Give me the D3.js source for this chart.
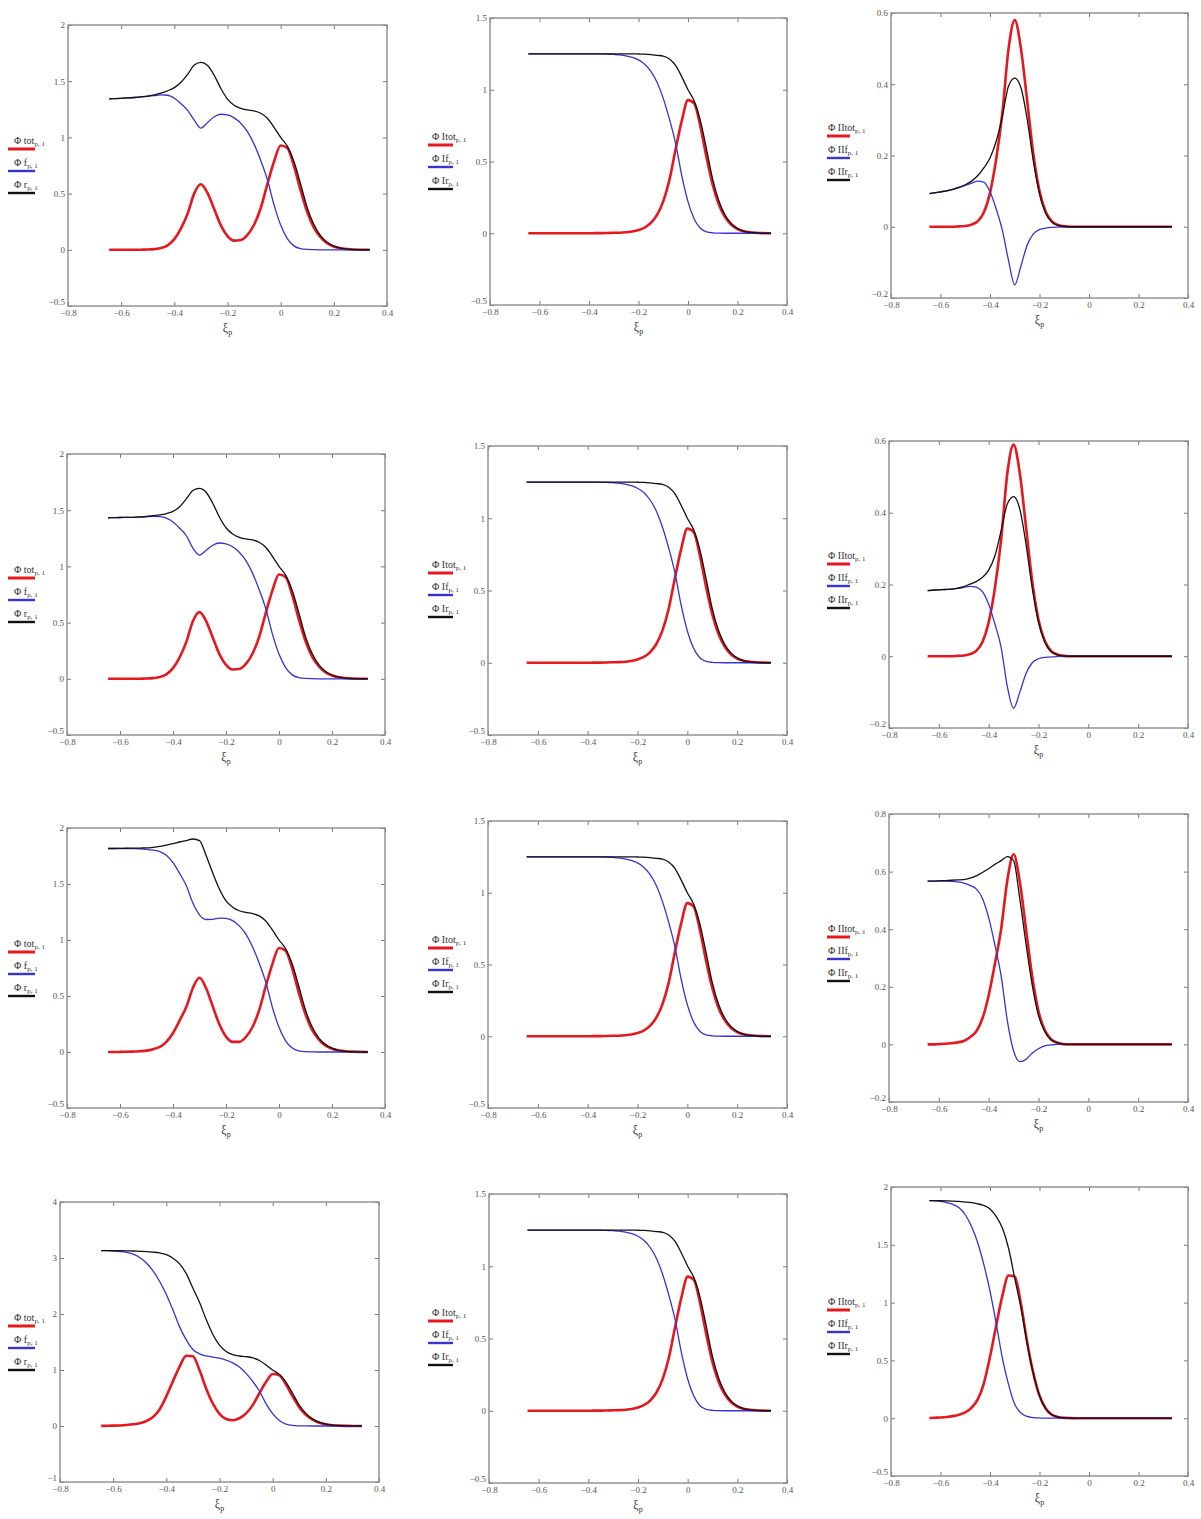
<!DOCTYPE html>
<html>
<head>
<meta charset="utf-8">
<script src="https://cdn.jsdelivr.net/npm/d3@7"></script>
<style>
  body { margin: 0; background: #fff; }
  svg { display: block; }
  text { font-family: "Liberation Serif", "DejaVu Serif", serif; }
</style>
</head>
<body>
<svg id="graph" width="1201" height="1519"></svg>
<script>

// Grille commune en ξp (abscisse de toutes les courbes)
const xi = [-0.645, -0.625, -0.6, -0.575, -0.55, -0.525, -0.5, -0.475, -0.45, -0.425,
  -0.4, -0.375, -0.35, -0.325, -0.3, -0.275, -0.25, -0.225, -0.2, -0.175,
  -0.15, -0.125, -0.1, -0.075, -0.05, -0.025, 0, 0.025, 0.05, 0.075,
  0.1, 0.125, 0.15, 0.175, 0.2, 0.225, 0.25, 0.275, 0.3, 0.325, 0.335];

// Colonne 2 (identique sur les 4 lignes)
const c2Rouge = [0,0,0,0,0,0,0,0,0,0,0,0.001,0.001,0.002,0.003,0.004,0.007,0.012,0.022,0.040,0.072,0.128,0.222,0.372,0.585,0.785,0.928,0.905,0.745,0.528,0.336,0.198,0.112,0.058,0.029,0.014,0.007,0.003,0.001,0,0];
const c2Bleu = [1.25,1.25,1.25,1.25,1.25,1.25,1.25,1.25,1.25,1.25,1.25,1.25,1.25,1.248,1.246,1.243,1.236,1.226,1.208,1.178,1.128,1.052,0.94,0.795,0.625,0.40,0.22,0.10,0.035,0.01,0.003,0.001,0,0,0,0,0,0,0,0,0];
const c2Noir = [1.25,1.25,1.25,1.25,1.25,1.25,1.25,1.25,1.25,1.25,1.25,1.25,1.25,1.25,1.25,1.25,1.25,1.25,1.249,1.248,1.245,1.24,1.235,1.215,1.17,1.09,1.0,0.922,0.785,0.585,0.375,0.225,0.127,0.068,0.034,0.015,0.006,0.002,0.001,0,0];

// Colonne 3, lignes 1 à 4
const c3Rouge1 = [0,0,0,0,0,0.001,0.002,0.006,0.015,0.04,0.095,0.19,0.32,0.5,0.58,0.5,0.355,0.205,0.1,0.042,0.015,0.005,0.001,0,0,0,0,0,0,0,0,0,0,0,0,0,0,0,0,0,0];
const c3Bleu1 = [0.093,0.095,0.098,0.101,0.105,0.110,0.116,0.122,0.128,0.125,0.098,0.05,-0.01,-0.095,-0.163,-0.11,-0.052,-0.02,-0.008,-0.004,-0.002,-0.001,0,0,0,0,0,0,0,0,0,0,0,0,0,0,0,0,0,0,0];
const c3Noir1 = [0.093,0.095,0.098,0.101,0.105,0.111,0.118,0.128,0.143,0.165,0.193,0.24,0.31,0.395,0.417,0.39,0.303,0.185,0.092,0.038,0.013,0.004,0.001,0,0,0,0,0,0,0,0,0,0,0,0,0,0,0,0,0,0];

const c3Rouge2 = [0,0,0,0,0,0.001,0.002,0.006,0.015,0.04,0.095,0.19,0.325,0.51,0.59,0.51,0.36,0.208,0.102,0.043,0.015,0.005,0.001,0,0,0,0,0,0,0,0,0,0,0,0,0,0,0,0,0,0];
const c3Bleu2 = [0.183,0.184,0.185,0.186,0.187,0.189,0.192,0.195,0.193,0.18,0.145,0.09,0.025,-0.085,-0.145,-0.1,-0.048,-0.018,-0.007,-0.003,-0.002,-0.001,0,0,0,0,0,0,0,0,0,0,0,0,0,0,0,0,0,0,0];
const c3Noir2 = [0.183,0.184,0.185,0.186,0.187,0.190,0.194,0.201,0.208,0.22,0.24,0.28,0.35,0.425,0.445,0.41,0.312,0.19,0.095,0.04,0.013,0.004,0.001,0,0,0,0,0,0,0,0,0,0,0,0,0,0,0,0,0,0];

const c3Rouge3 = [0,0,0.001,0.002,0.004,0.007,0.012,0.025,0.045,0.09,0.17,0.28,0.40,0.57,0.66,0.565,0.40,0.235,0.115,0.05,0.018,0.006,0.001,0,0,0,0,0,0,0,0,0,0,0,0,0,0,0,0,0,0];
const c3Bleu3 = [0.567,0.567,0.567,0.567,0.566,0.564,0.560,0.552,0.54,0.507,0.44,0.345,0.238,0.082,-0.022,-0.06,-0.052,-0.03,-0.015,-0.005,-0.002,0,0,0,0,0,0,0,0,0,0,0,0,0,0,0,0,0,0,0,0];
const c3Noir3 = [0.567,0.567,0.568,0.569,0.570,0.571,0.572,0.577,0.585,0.597,0.61,0.625,0.638,0.652,0.638,0.505,0.348,0.205,0.10,0.045,0.016,0.006,0.001,0,0,0,0,0,0,0,0,0,0,0,0,0,0,0,0,0,0];

const c3Rouge4 = [0.002,0.004,0.006,0.01,0.018,0.03,0.05,0.09,0.16,0.30,0.53,0.80,1.06,1.235,1.225,0.99,0.66,0.39,0.195,0.084,0.03,0.01,0.003,0.001,0,0,0,0,0,0,0,0,0,0,0,0,0,0,0,0,0];
const c3Bleu4 = [1.882,1.88,1.875,1.865,1.85,1.82,1.76,1.66,1.52,1.33,1.10,0.82,0.52,0.29,0.12,0.045,0.015,0.005,0.002,0,0,0,0,0,0,0,0,0,0,0,0,0,0,0,0,0,0,0,0,0,0];
const c3Noir4 = [1.882,1.882,1.881,1.88,1.878,1.875,1.87,1.865,1.855,1.84,1.81,1.745,1.645,1.47,1.21,0.955,0.65,0.385,0.195,0.083,0.03,0.01,0.003,0.001,0,0,0,0,0,0,0,0,0,0,0,0,0,0,0,0,0];

// Colonne 1, lignes 1 à 4
const c1Rouge1 = [0,0,0,0,0,0.001,0.002,0.006,0.015,0.04,0.095,0.191,0.321,0.502,0.583,0.504,0.362,0.217,0.122,0.082,0.087,0.133,0.223,0.372,0.585,0.785,0.928,0.905,0.745,0.528,0.336,0.198,0.112,0.058,0.029,0.014,0.007,0.003,0.001,0,0];
const c1Bleu1 = [1.343,1.345,1.348,1.351,1.355,1.36,1.366,1.372,1.378,1.375,1.348,1.30,1.24,1.153,1.083,1.133,1.184,1.206,1.2,1.174,1.126,1.051,0.94,0.795,0.625,0.40,0.22,0.10,0.035,0.01,0.003,0.001,0,0,0,0,0,0,0,0,0];
const c1Noir1 = [1.343,1.345,1.348,1.351,1.355,1.361,1.368,1.378,1.393,1.415,1.443,1.49,1.56,1.645,1.667,1.64,1.553,1.435,1.341,1.286,1.258,1.244,1.236,1.215,1.17,1.09,1.0,0.922,0.785,0.585,0.375,0.225,0.127,0.068,0.034,0.015,0.006,0.002,0.001,0,0];

const c1Rouge2 = [0,0,0,0,0,0.001,0.002,0.006,0.015,0.04,0.095,0.191,0.326,0.512,0.593,0.514,0.367,0.22,0.124,0.083,0.087,0.133,0.223,0.372,0.585,0.785,0.928,0.905,0.745,0.528,0.336,0.198,0.112,0.058,0.029,0.014,0.007,0.003,0.001,0,0];
const c1Bleu2 = [1.433,1.434,1.435,1.436,1.437,1.439,1.442,1.445,1.443,1.43,1.395,1.34,1.275,1.163,1.101,1.143,1.188,1.208,1.201,1.175,1.126,1.051,0.94,0.795,0.625,0.40,0.22,0.10,0.035,0.01,0.003,0.001,0,0,0,0,0,0,0,0,0];
const c1Noir2 = [1.433,1.434,1.435,1.436,1.437,1.44,1.444,1.451,1.458,1.47,1.49,1.53,1.60,1.675,1.695,1.66,1.562,1.44,1.344,1.288,1.258,1.244,1.236,1.215,1.17,1.09,1.0,0.922,0.785,0.585,0.375,0.225,0.127,0.068,0.034,0.015,0.006,0.002,0.001,0,0];

const c1Rouge3 = [0,0,0.001,0.002,0.004,0.007,0.012,0.025,0.045,0.09,0.17,0.281,0.401,0.572,0.663,0.569,0.407,0.247,0.137,0.09,0.09,0.134,0.223,0.372,0.585,0.785,0.928,0.905,0.745,0.528,0.336,0.198,0.112,0.058,0.029,0.014,0.007,0.003,0.001,0,0];
const c1Bleu3 = [1.817,1.817,1.817,1.817,1.816,1.814,1.81,1.802,1.79,1.757,1.69,1.595,1.486,1.33,1.224,1.183,1.184,1.196,1.193,1.173,1.126,1.052,0.94,0.795,0.625,0.40,0.22,0.10,0.035,0.01,0.003,0.001,0,0,0,0,0,0,0,0,0];
const c1Noir3 = [1.817,1.817,1.818,1.819,1.82,1.821,1.822,1.827,1.835,1.847,1.86,1.875,1.888,1.902,1.888,1.755,1.598,1.455,1.349,1.293,1.261,1.246,1.236,1.215,1.17,1.09,1.0,0.922,0.785,0.585,0.375,0.225,0.127,0.068,0.034,0.015,0.006,0.002,0.001,0,0];

const c1Rouge4 = [0.002,0.004,0.006,0.01,0.018,0.03,0.05,0.09,0.16,0.30,0.53,0.801,1.061,1.255,1.245,0.994,0.667,0.402,0.217,0.124,0.102,0.138,0.225,0.373,0.585,0.785,0.928,0.905,0.745,0.528,0.336,0.198,0.112,0.058,0.029,0.014,0.007,0.003,0.001,0,0];
const c1Bleu4 = [3.132,3.13,3.125,3.115,3.10,3.07,3.01,2.91,2.77,2.58,2.35,2.07,1.77,1.538,1.366,1.288,1.251,1.231,1.21,1.178,1.128,1.052,0.94,0.795,0.625,0.40,0.22,0.10,0.035,0.01,0.003,0.001,0,0,0,0,0,0,0,0,0];
const c1Noir4 = [3.132,3.132,3.131,3.13,3.128,3.125,3.12,3.115,3.105,3.09,3.06,2.995,2.895,2.72,2.46,2.205,1.9,1.635,1.444,1.331,1.275,1.25,1.238,1.216,1.17,1.09,1.0,0.922,0.785,0.585,0.375,0.225,0.127,0.068,0.034,0.015,0.006,0.002,0.001,0,0];

// Graduations
const ticksX = [-0.8, -0.6, -0.4, -0.2, 0, 0.2, 0.4];
const ticksA = [-0.5, 0, 0.5, 1, 1.5, 2];
const ticksB = [-0.5, 0, 0.5, 1, 1.5];
const ticksC = [-0.2, 0, 0.2, 0.4, 0.6];
const ticksD = [-0.2, 0, 0.2, 0.4, 0.6, 0.8];
const ticksE = [-1, 0, 1, 2, 3, 4];

// Noms de la légende
const legende1 = ["tot", "f", "r"];
const legende2 = ["Itot", "If", "Ir"];
const legende3 = ["IItot", "IIf", "IIr"];

// Cadres [gauche, droite, haut, bas] par ligne / colonne
const cadres = [
  [[68, 387, 25, 306], [490, 787, 18, 305], [891, 1188, 13, 298]],
  [[67, 385, 454, 735], [488, 787, 446, 735], [889, 1188, 441, 728]],
  [[67, 385, 828, 1108], [488, 787, 821, 1108], [889, 1188, 814, 1102]],
  [[60, 379, 1202, 1482], [489, 787, 1194, 1483], [891, 1188, 1187, 1476]]
];

// Position de la légende par colonne : trait x1, x2, texte x, décalage vertical
const posLegende = [[8, 35, 14, 124], [428, 453, 432, 127], [827, 850, 828, 123]];

const couleurs = ["#e4181e", "#3434d2", "#111111"];
const epaisseurs = [2.6, 1.3, 1.3];

// Table des panneaux
const panneaux = [
  { r: 0, c: 0, dom: [-0.5, 2], ticks: ticksA, series: [c1Rouge1, c1Bleu1, c1Noir1], noms: legende1 },
  { r: 0, c: 1, dom: [-0.5, 1.5], ticks: ticksB, series: [c2Rouge, c2Bleu, c2Noir], noms: legende2 },
  { r: 0, c: 2, dom: [-0.2, 0.6], ticks: ticksC, series: [c3Rouge1, c3Bleu1, c3Noir1], noms: legende3 },
  { r: 1, c: 0, dom: [-0.5, 2], ticks: ticksA, series: [c1Rouge2, c1Bleu2, c1Noir2], noms: legende1 },
  { r: 1, c: 1, dom: [-0.5, 1.5], ticks: ticksB, series: [c2Rouge, c2Bleu, c2Noir], noms: legende2 },
  { r: 1, c: 2, dom: [-0.2, 0.6], ticks: ticksC, series: [c3Rouge2, c3Bleu2, c3Noir2], noms: legende3 },
  { r: 2, c: 0, dom: [-0.5, 2], ticks: ticksA, series: [c1Rouge3, c1Bleu3, c1Noir3], noms: legende1 },
  { r: 2, c: 1, dom: [-0.5, 1.5], ticks: ticksB, series: [c2Rouge, c2Bleu, c2Noir], noms: legende2 },
  { r: 2, c: 2, dom: [-0.2, 0.8], ticks: ticksD, series: [c3Rouge3, c3Bleu3, c3Noir3], noms: legende3 },
  { r: 3, c: 0, dom: [-1, 4], ticks: ticksE, series: [c1Rouge4, c1Bleu4, c1Noir4], noms: legende1 },
  { r: 3, c: 1, dom: [-0.5, 1.5], ticks: ticksB, series: [c2Rouge, c2Bleu, c2Noir], noms: legende2 },
  { r: 3, c: 2, dom: [-0.5, 2], ticks: ticksA, series: [c3Rouge4, c3Bleu4, c3Noir4], noms: legende3 }
];

const svg = d3.select("#graph");

// Format façon Mathcad : signe moins typographique
const fmt = d => d < 0 ? "\u2212" + Math.abs(d) : String(d);

panneaux.forEach(p => {
  const [gauche, droite, haut, bas] = cadres[p.r][p.c];
  const g = svg.append("g");

  const x = d3.scaleLinear().domain([-0.8, 0.4]).range([gauche, droite]);
  const y = d3.scaleLinear().domain(p.dom).range([bas, haut]);

  // Axes (graduations vers l'intérieur sur les quatre côtés)
  const axes = [
    [d3.axisBottom(x).tickValues(ticksX).tickFormat(fmt).tickPadding(4), `translate(0,${bas})`],
    [d3.axisTop(x).tickValues(ticksX).tickFormat(""), `translate(0,${haut})`],
    [d3.axisLeft(y).tickValues(p.ticks).tickFormat(fmt).tickPadding(3), `translate(${gauche},0)`],
    [d3.axisRight(y).tickValues(p.ticks).tickFormat(""), `translate(${droite},0)`]
  ];
  axes.forEach(([axe, tr], n) => {
    const a = g.append("g").attr("transform", tr)
      .call(axe.tickSizeInner(-4).tickSizeOuter(0));
    a.select(".domain").remove();
    a.selectAll("line").attr("stroke", "#777").attr("stroke-width", 1);
    a.selectAll("text").attr("font-size", 9).attr("fill", "#555")
      .attr("font-family", "Liberation Serif, serif");
    // la plus basse graduation y remonte un peu pour ne pas chevaucher l'axe x
    if (n === 2) a.selectAll("text").filter(d => d === p.dom[0]).attr("dy", "-0.15em");
  });

  // Cadre
  g.append("rect")
    .attr("x", gauche).attr("y", haut)
    .attr("width", droite - gauche).attr("height", bas - haut)
    .attr("fill", "none").attr("stroke", "#8c8c8c").attr("stroke-width", 1.4);

  // Courbes : rouge, bleu, puis noir au-dessus
  const ligne = d3.line()
    .x((d, i) => x(xi[i]))
    .y(d => y(d))
    .curve(d3.curveMonotoneX);

  p.series.forEach((s, k) => {
    g.append("path")
      .attr("d", ligne(s))
      .attr("fill", "none")
      .attr("stroke", couleurs[k])
      .attr("stroke-width", epaisseurs[k])
      .attr("stroke-linejoin", "round");
  });

  // Titre de l'axe x : ξp
  const titre = g.append("text")
    .attr("x", (gauche + droite) / 2).attr("y", bas + 26)
    .attr("text-anchor", "middle").attr("font-size", 12).attr("fill", "#333");
  titre.append("tspan").text("\u03be");
  titre.append("tspan").attr("font-size", 8).attr("dy", 3).text("p");

  // Légende
  const [lx1, lx2, tx, dy0] = posLegende[p.c];
  p.noms.forEach((nom, k) => {
    const ly = haut + dy0 + k * 22;
    const t = g.append("text")
      .attr("x", tx).attr("y", ly - 5)
      .attr("font-size", 10).attr("fill", "#333");
    t.append("tspan").text("\u03a6 " + nom);
    t.append("tspan").attr("font-size", 7).attr("dy", 2).text("p, 1");
    g.append("line")
      .attr("x1", lx1).attr("x2", lx2).attr("y1", ly).attr("y2", ly)
      .attr("stroke", couleurs[k])
      .attr("stroke-width", k === 0 ? 3 : 2.4);
  });
});

</script>
</body>
</html>
